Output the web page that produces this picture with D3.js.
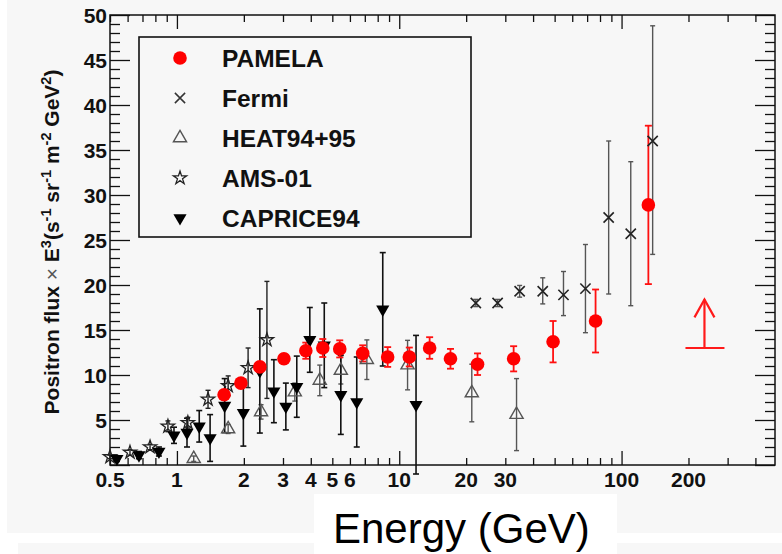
<!DOCTYPE html>
<html><head><meta charset="utf-8">
<script src="https://cdn.jsdelivr.net/npm/d3@7"></script>
<style>body{margin:0;background:#fff}svg{display:block}</style>
</head><body>
<svg id="c" width="782" height="554"></svg>
<script>
// ---------------- data ----------------
const xTickLabels = [0.5, 1, 2, 3, 4, 5, 6, 10, 20, 30, 100, 200];
const yTickLabels = [5, 10, 15, 20, 25, 30, 35, 40, 45, 50];

const pamelaE   = [1.63, 1.94, 2.36, 3.03, 3.80, 4.53, 5.40, 6.85, 8.87, 11.1, 13.7, 17.0, 22.5, 32.7, 49.2, 76.4, 132];
const pamelaY   = [7.8, 9.1, 10.9, 11.8, 12.7, 13.0, 12.9, 12.4, 12.0, 12.0, 13.0, 11.8, 11.2, 11.8, 13.7, 16.0, 28.9];
const pamelaErr = [0.4, 0.4, 0.5, 0.5, 0.9, 1.0, 0.95, 0.9, 1.1, 1.05, 1.2, 1.1, 1.2, 1.4, 2.3, 3.5, 8.8];

const fermiE     = [22.1, 27.7, 34.8, 44.2, 54.8, 68.8, 87.5, 110, 138];
const fermiY     = [18.0, 18.0, 19.3, 19.3, 18.9, 19.6, 27.5, 25.7, 36.0];
const fermiErrLo = [0.4, 0.4, 0.65, 1.4, 2.3, 4.9, 8.5, 8.0, 12.6];
const fermiErrHi = [0.4, 0.4, 0.65, 1.5, 2.6, 4.9, 8.5, 8.0, 12.8];

const heatE   = [1.19, 1.70, 2.39, 3.39, 4.39, 5.46, 7.15, 10.9, 21.2, 33.7];
const heatY   = [0.7, 4.0, 5.9, 8.1, 9.4, 10.5, 11.7, 11.1, 8.0, 5.6];
const heatErr = [0.3, 0.5, 0.8, 1.0, 1.7, 1.5, 2.2, 2.75, 3.2, 4.0];

const amsE   = [0.50, 0.615, 0.757, 0.911, 1.12, 1.38, 1.70, 2.09, 2.54];
const amsY   = [0.9, 1.4, 2.0, 4.3, 4.7, 7.3, 8.8, 10.8, 13.9];
const amsErr = [0.2, 0.3, 0.3, 0.6, 0.6, 1.0, 1.1, 2.2, 6.5];

const capriceE   = [0.537, 0.675, 0.83, 0.97, 1.11, 1.26, 1.41, 1.64, 1.99, 2.36, 2.73, 3.09, 3.46, 3.96, 4.6, 5.46, 6.44, 8.43, 11.9];
const capriceY   = [0.7, 1.1, 1.5, 3.3, 3.6, 4.3, 3.0, 6.6, 5.8, 10.45, 8.2, 6.5, 8.7, 13.9, 13.3, 7.8, 7.0, 17.3, 6.7];
const capriceErr = [0.3, 0.4, 0.5, 0.9, 1.6, 1.75, 2.6, 3.0, 3.7, 6.9, 3.5, 2.6, 3.4, 3.6, 4.7, 4.4, 5.0, 6.3, 7.7];

// lower-limit arrow (PAMELA projection)
const arrowE = [236];
const arrowLow = [13.0];
const arrowHigh = [18.4];

const legendNames = ["PAMELA", "Fermi", "HEAT94+95", "AMS-01", "CAPRICE94"];

// ---------------- drawing ----------------
const svg = d3.select("#c");
const W = 782, H = 554;
const M = {l: 110, r: 775, t: 15, b: 465};
const BG = "#f7f7f7";
const FONT = "'Liberation Sans', Arial, Helvetica, sans-serif";

svg.append("rect").attr("x", 7).attr("y", 0).attr("width", W - 7).attr("height", 533).attr("fill", BG);
svg.append("rect").attr("x", 18).attr("y", 543).attr("width", W - 18).attr("height", 11).attr("fill", BG);

const x = d3.scaleLog().domain([0.5, 490]).range([M.l, M.r]);
const y = d3.scaleLinear().domain([0, 50]).range([M.b, M.t]);

// ticks
const xt = x.ticks();
const isDecade = v => Math.abs(Math.log10(v) - Math.round(Math.log10(v))) < 1e-9;
const xMajor = xt.filter(isDecade), xMinor = xt.filter(v => !isDecade(v));
const yt = y.ticks(50);
const yMajor = yt.filter(v => v % 5 === 0), yMinor = yt.filter(v => v % 5 !== 0);

const tickStyle = g => { g.select(".domain").remove(); g.selectAll("line").attr("stroke", "#111").attr("stroke-width", 1.3); g.selectAll("text").remove(); };

svg.append("g").attr("transform", `translate(0,${M.b})`).call(d3.axisBottom(x).tickValues(xMajor).tickSize(-14).tickFormat("")).call(tickStyle);
svg.append("g").attr("transform", `translate(0,${M.b})`).call(d3.axisBottom(x).tickValues(xMinor).tickSize(-7).tickFormat("")).call(tickStyle);
svg.append("g").attr("transform", `translate(0,${M.t})`).call(d3.axisTop(x).tickValues(xMajor).tickSize(-14).tickFormat("")).call(tickStyle);
svg.append("g").attr("transform", `translate(0,${M.t})`).call(d3.axisTop(x).tickValues(xMinor).tickSize(-7).tickFormat("")).call(tickStyle);
svg.append("g").attr("transform", `translate(${M.l},0)`).call(d3.axisLeft(y).tickValues(yMajor).tickSize(-20).tickFormat("")).call(tickStyle);
svg.append("g").attr("transform", `translate(${M.l},0)`).call(d3.axisLeft(y).tickValues(yMinor).tickSize(-10).tickFormat("")).call(tickStyle);
svg.append("g").attr("transform", `translate(${M.r},0)`).call(d3.axisRight(y).tickValues(yMajor).tickSize(-20).tickFormat("")).call(tickStyle);
svg.append("g").attr("transform", `translate(${M.r},0)`).call(d3.axisRight(y).tickValues(yMinor).tickSize(-10).tickFormat("")).call(tickStyle);

svg.append("rect").attr("x", M.l).attr("y", M.t).attr("width", M.r - M.l).attr("height", M.b - M.t)
  .attr("fill", "none").attr("stroke", "#111").attr("stroke-width", 1.5);

// tick labels
svg.append("g").selectAll("text").data(xTickLabels).join("text")
  .attr("x", d => x(d)).attr("y", 487).attr("text-anchor", "middle")
  .attr("font-family", FONT).attr("font-weight", "bold").attr("font-size", 21).attr("fill", "#111")
  .text(d => d);
svg.append("g").selectAll("text").data(yTickLabels).join("text")
  .attr("x", 107).attr("y", d => y(d) + 7.5).attr("text-anchor", "end")
  .attr("font-family", FONT).attr("font-weight", "bold").attr("font-size", 21).attr("fill", "#111")
  .text(d => d);

// y axis title
const yl = svg.append("text").attr("transform", "translate(59,242) rotate(-90)").attr("text-anchor", "middle")
  .attr("font-family", FONT).attr("font-weight", "bold").attr("font-size", 21).attr("fill", "#111");
const parts = [["Positron flux ", 0], ["×", 0, true], [" E", 0], ["3", 1], ["(s", 0], ["-1", 1], [" sr", 0], ["-1", 1], [" m", 0], ["-2", 1], [" GeV", 0], ["2", 1], [")", 0]];
let up = false;
parts.forEach(p => {
  const t = yl.append("tspan").text(p[0]);
  if (p[1]) { t.attr("dy", up ? 0 : -8).attr("font-size", 14.5); up = true; }
  else { if (up) t.attr("dy", 8); up = false; }
  if (p[2]) t.attr("font-weight", "normal").attr("fill", "#555");
});

// x axis title
svg.append("rect").attr("x", 314).attr("y", 494).attr("width", 303).attr("height", 60).attr("fill", "#fff");
svg.append("text").attr("x", 333).attr("y", 543).attr("font-family", FONT).attr("font-size", 42).attr("fill", "#000").text("Energy (GeV)");

// error bar helper
function errBars(E, Y, lo, hi, color, cap, sw) {
  const g = svg.append("g").attr("stroke", color).attr("stroke-width", sw);
  E.forEach((e, i) => {
    const cx = x(e), y0 = y(Y[i] - lo[i]), y1 = y(Y[i] + hi[i]);
    g.append("line").attr("x1", cx).attr("x2", cx).attr("y1", y0).attr("y2", y1);
    g.append("line").attr("x1", cx - cap).attr("x2", cx + cap).attr("y1", y0).attr("y2", y0);
    g.append("line").attr("x1", cx - cap).attr("x2", cx + cap).attr("y1", y1).attr("y2", y1);
  });
}

errBars(heatE, heatY, heatErr, heatErr, "#555", 2.5, 1.4);
errBars(amsE, amsY, amsErr, amsErr, "#222", 2.5, 1.4);
errBars(capriceE, capriceY, capriceErr, capriceErr, "#111", 3, 1.6);
errBars(fermiE, fermiY, fermiErrLo, fermiErrHi, "#555", 2.5, 1.4);
errBars(pamelaE, pamelaY, pamelaErr, pamelaErr, "#ff1010", 3.5, 1.8);

const triUp = d3.symbol().type(d3.symbolTriangle).size(75);
const star = d3.symbol().type(d3.symbolStar).size(55);
const times = d3.symbol().type(d3.symbolTimes).size(70);

function markers(E, Y, path, attrs, rot) {
  const s = svg.append("g").selectAll("path").data(E).join("path")
    .attr("d", path)
    .attr("transform", (e, i) => `translate(${x(e)},${y(Y[i])})${rot ? " rotate(180)" : ""}`);
  Object.entries(attrs).forEach(([k, v]) => s.attr(k, v));
}

markers(heatE, heatY, triUp, {fill: "none", stroke: "#555", "stroke-width": 1.4});
markers(amsE, amsY, star, {fill: "none", stroke: "#222", "stroke-width": 1.3});
markers(capriceE, capriceY, triUp, {fill: "#000"}, true);
markers(fermiE, fermiY, times, {fill: "none", stroke: "#222", "stroke-width": 1.6});
svg.append("g").selectAll("circle").data(pamelaE).join("circle")
  .attr("cx", d => x(d)).attr("cy", (d, i) => y(pamelaY[i])).attr("r", 6.8).attr("fill", "#ff0000");

// lower-limit arrow
arrowE.forEach((e, i) => {
  const cx = x(e), yb = y(arrowLow[i]), yt2 = y(arrowHigh[i]);
  const g = svg.append("g").attr("stroke", "#ff1a1a").attr("stroke-width", 2.2).attr("fill", "none");
  g.append("line").attr("x1", cx - 19).attr("x2", cx + 20).attr("y1", yb).attr("y2", yb);
  g.append("line").attr("x1", cx).attr("x2", cx).attr("y1", yb).attr("y2", yt2);
  g.append("path").attr("d", `M${cx - 10},${yt2 + 18}L${cx},${yt2}L${cx + 10},${yt2 + 18}`);
});

// legend
svg.append("rect").attr("x", 139).attr("y", 37).attr("width", 332).attr("height", 200)
  .attr("fill", "none").attr("stroke", "#111").attr("stroke-width", 1.6);
const rowY = i => 58 + i * 40;
const lg = svg.append("g");
lg.append("circle").attr("cx", 180).attr("cy", rowY(0)).attr("r", 6.8).attr("fill", "#ff0000");
lg.append("path").attr("d", times).attr("transform", `translate(180,${rowY(1)})`).attr("fill", "none").attr("stroke", "#333").attr("stroke-width", 1.5);
lg.append("path").attr("d", triUp).attr("transform", `translate(180,${rowY(2)})`).attr("fill", "none").attr("stroke", "#555").attr("stroke-width", 1.4);
lg.append("path").attr("d", star).attr("transform", `translate(180,${rowY(3)})`).attr("fill", "none").attr("stroke", "#222").attr("stroke-width", 1.3);
lg.append("path").attr("d", triUp).attr("transform", `translate(180,${rowY(4)}) rotate(180)`).attr("fill", "#000");
lg.selectAll("text").data(legendNames).join("text")
  .attr("x", 222).attr("y", (d, i) => rowY(i) + 8.5)
  .attr("font-family", FONT).attr("font-weight", "bold").attr("font-size", 24.5).attr("fill", "#111")
  .text(d => d);
</script>
</body></html>
